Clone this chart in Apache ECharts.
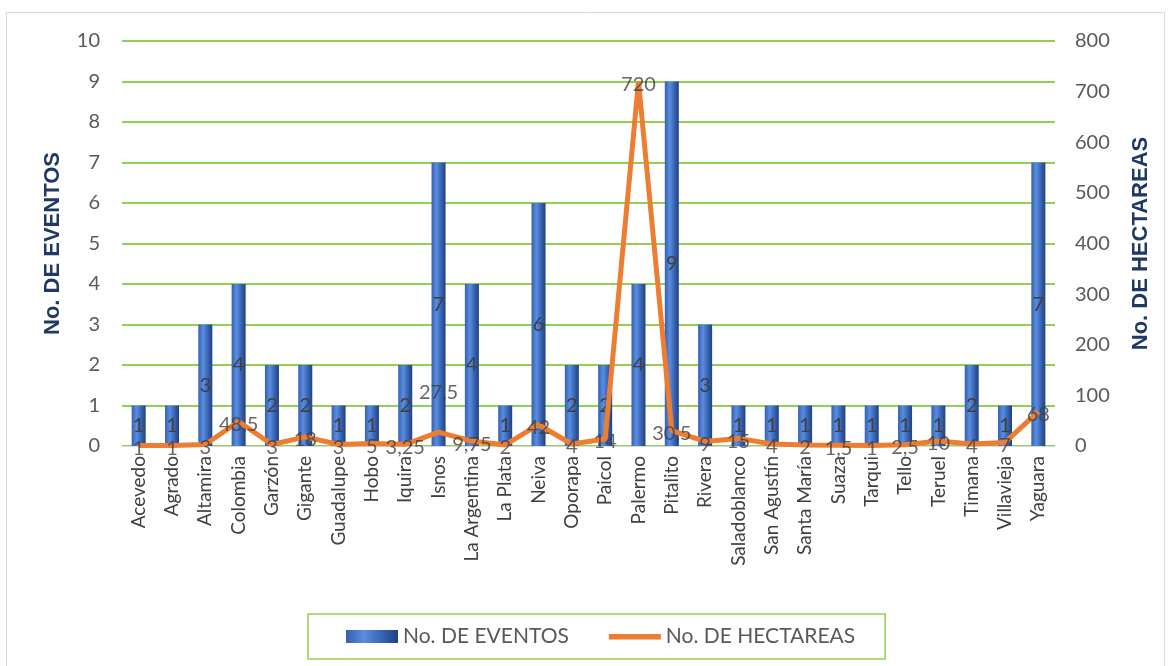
<!DOCTYPE html>
<html><head><meta charset="utf-8">
<script src="https://cdn.jsdelivr.net/npm/echarts@6/dist/echarts.min.js"></script>
<style>html,body{margin:0;padding:0;background:#fff}#c{width:1170px;height:666px}</style>
</head><body><div id="c"></div>
<script>
const categories = ['Acevedo','Agrado','Altamira','Colombia','Garzón','Gigante','Guadalupe','Hobo','Iquira','Isnos','La Argentina','La Plata','Neiva','Oporapa','Paicol','Palermo','Pitalito','Rivera','Saladoblanco','San Agustín','Santa María','Suaza','Tarqui','Tello','Teruel','Timana','Villavieja','Yaguara'];
const eventos = [1,1,3,4,2,2,1,1,2,7,4,1,6,2,2,4,9,3,1,1,1,1,1,1,1,2,1,7];
const hectareas = [1,1,3,48.5,3,18,3,5,3.25,27.5,9.75,2,42,4,14,720,30.5,9,15,4,2,1.5,1,2.5,10,4,7,68];
const leftTicks = [0,10,1];
const rightTicks = [0,800,100];

const fmt = v => String(v).replace('.', ',');
const font = 'Lato, "Open Sans", sans-serif';
const chart = echarts.init(document.getElementById('c'));
const labelData = hectareas.map((v,i) => i === 9
  ? {value: v, label: {offset: [0, -40]}}
  : v);
const lineIcon = 'path://M0,4 L52,4 L52,9.5 L0,9.5 Z M0,0 L0.01,0 L0,0.01 Z M52,13 L51.99,13 L52,12.99 Z';
chart.setOption({
  animation: false,
  graphic: [{type:'rect', shape:{x:6.5,y:12.5,width:1158,height:670}, style:{fill:'none', stroke:'#d9d9d9', lineWidth:1}, silent:true}],
  grid: {left:122, right:115, top:41, bottom:220},
  legend: {
    left: 308, top: 614,
    padding: [12, 30, 12, 38],
    itemGap: 40, itemWidth: 52, itemHeight: 13,
    borderColor: '#92d050', borderWidth: 1.5,
    textStyle: {fontFamily: font, fontSize: 21, color: '#595959'},
    data: [{name:'No. DE EVENTOS', icon:'rect'}, {name:'No. DE HECTAREAS', icon: lineIcon}]
  },
  xAxis: {
    type: 'category', data: categories,
    axisTick: {show:false},
    axisLine: {lineStyle:{color:'#d9d9d9'}},
    axisLabel: {rotate: 90, interval: 0, fontFamily: font, fontSize: 19, color: '#404040', margin: 10}
  },
  yAxis: [{
    type: 'value', min: leftTicks[0], max: leftTicks[1], interval: leftTicks[2],
    name: 'No. DE EVENTOS', nameLocation: 'middle', nameGap: 58, nameRotate: 90,
    nameTextStyle: {fontFamily: 'Liberation Sans, Arial, sans-serif', fontWeight: 'bold', fontSize: 22, color: '#1f3864'},
    axisLabel: {fontFamily: font, fontSize: 20, color: '#595959', margin: 22},
    splitLine: {lineStyle: {color: '#92d050', width: 2}},
    axisLine: {show:false}, axisTick: {show:false}
  }, {
    type: 'value', min: rightTicks[0], max: rightTicks[1], interval: rightTicks[2], position: 'right',
    name: 'No. DE HECTAREAS', nameLocation: 'middle', nameGap: 75, nameRotate: 90,
    nameTextStyle: {fontFamily: 'Liberation Sans, Arial, sans-serif', fontWeight: 'bold', fontSize: 22, color: '#1f3864'},
    axisLabel: {fontFamily: font, fontSize: 20, color: '#595959', margin: 20},
    splitLine: {show:false}, axisLine: {show:false}, axisTick: {show:false}
  }],
  series: [{
    name: 'No. DE EVENTOS', type: 'bar', yAxisIndex: 0, data: eventos, barWidth: 14,
    itemStyle: {color: new echarts.graphic.LinearGradient(0,0,1,0,[
      {offset:0, color:'#3560b0'},{offset:0.35, color:'#5a8de0'},{offset:0.55, color:'#4574c6'},{offset:1, color:'#1f3f82'}])},
    label: {show:true, position:'inside', fontFamily: font, fontSize: 20, color:'#404040', formatter: p => fmt(p.value)}
  }, {
    name: 'No. DE HECTAREAS', type: 'line', yAxisIndex: 1, data: hectareas,
    symbol: 'none',
    lineStyle: {color:'#ed7d31', width: 5}, itemStyle: {color:'#ed7d31'},
    z: 3
  }, {
    name: 'labels', type: 'scatter', yAxisIndex: 1, data: labelData,
    symbolSize: 1, itemStyle: {color: 'rgba(0,0,0,0)'}, silent: true,
    label: {show:true, position:'inside', offset:[0,3], fontFamily: font, fontSize: 20, color:'#404040', formatter: p => fmt(p.value)},
    zlevel: 1, z: 5
  }]
});
</script></body></html>
